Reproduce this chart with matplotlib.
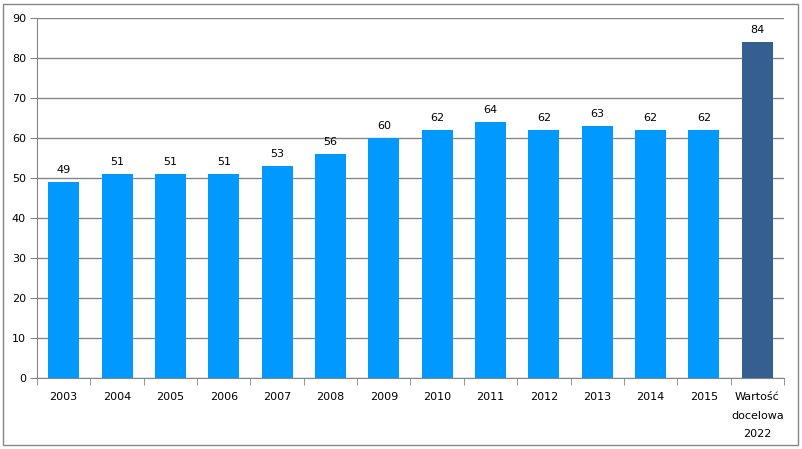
import matplotlib.pyplot as plt
import numpy as np
from matplotlib.patches import Rectangle

categories = ['2003', '2004', '2005', '2006', '2007', '2008', '2009', '2010',
              '2011', '2012', '2013', '2014', '2015', 'Wartość\ndocelowa\n2022']
values = [49, 51, 51, 51, 53, 56, 60, 62, 64, 62, 63, 62, 62, 84]

bar_colors = ['#0099FF'] * (len(values) - 1) + ['#355F91']
grey = '#868686'

fig = plt.figure(figsize=(8.03, 4.49), dpi=100)
ax = fig.add_axes([37 / 803, 1 - 378 / 449, (784 - 37) / 803, (378 - 18) / 449])

x = np.arange(len(categories))
ax.bar(x, values, width=0.58, color=bar_colors, zorder=3)

for xi, v in zip(x, values):
    ax.text(xi, v + 1.8, str(v), ha='center', va='bottom', fontsize=8, color='black')

ax.set_xlim(-0.5, len(categories) - 0.5)
ax.set_ylim(0, 90)
ax.set_yticks(np.arange(0, 91, 10))
ax.yaxis.grid(True, color=grey, linewidth=1)
ax.set_axisbelow(True)

# category labels centred, tick marks on category boundaries
ax.set_xticks(x)
ax.set_xticklabels(categories, fontsize=8, linespacing=2.1)
ax.tick_params(axis='x', which='major', length=0, pad=10)
ax.set_xticks(np.arange(-0.5, len(categories)), minor=True)
ax.tick_params(axis='x', which='minor', length=5, color=grey, direction='out')
ax.tick_params(axis='y', labelsize=8, length=5, color=grey, pad=3)

for side in ['top', 'right']:
    ax.spines[side].set_visible(False)
for side in ['left', 'bottom']:
    ax.spines[side].set_color(grey)

# outer chart border
fig.patches.append(Rectangle((3 / 803, 4 / 449), 795 / 803, 441 / 449,
                             transform=fig.transFigure, fill=False,
                             edgecolor=grey, linewidth=1))

fig.savefig('out.png', dpi=100)
